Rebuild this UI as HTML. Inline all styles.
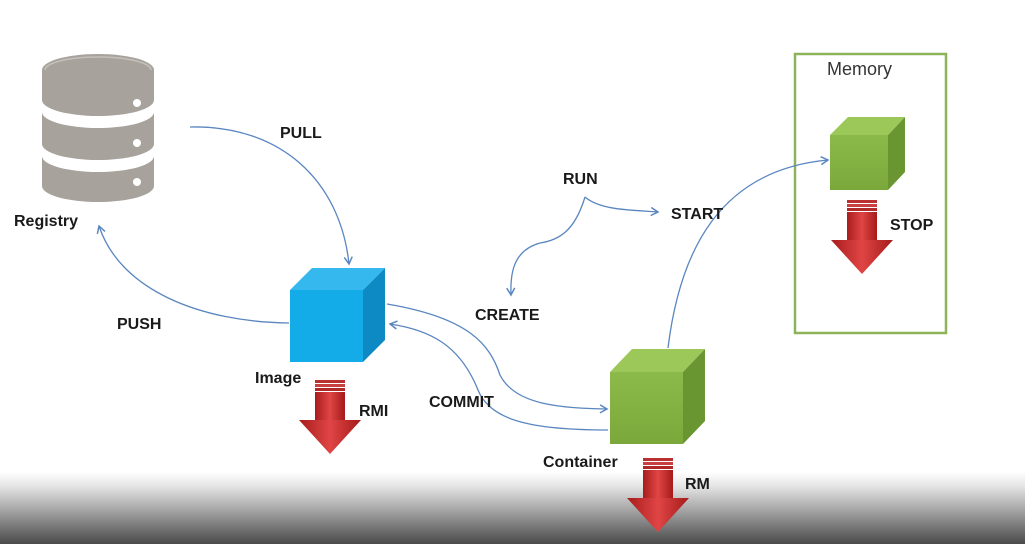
<!DOCTYPE html>
<html><head><meta charset="utf-8"><style>
html,body{margin:0;padding:0;background:#fff}
svg{display:block}
text{font-family:"Liberation Sans",sans-serif;font-size:16px;font-weight:bold;fill:#1a1a1a}
</style></head><body>
<svg width="1025" height="544" viewBox="0 0 1025 544" xmlns="http://www.w3.org/2000/svg">
<defs>
<linearGradient id="bg" x1="0" y1="0" x2="0" y2="1">
<stop offset="0" stop-color="#ffffff"/><stop offset="0.2" stop-color="#e4e4e4"/><stop offset="1" stop-color="#4a4a4a"/>
</linearGradient>
<linearGradient id="red" x1="0" y1="0" x2="1" y2="0">
<stop offset="0" stop-color="#a81c1c"/><stop offset="0.5" stop-color="#e04545"/><stop offset="1" stop-color="#a51a1a"/>
</linearGradient>
<linearGradient id="gf" x1="0" y1="0" x2="0" y2="1"><stop offset="0" stop-color="#8cba4a"/><stop offset="1" stop-color="#7aa83a"/></linearGradient>
<marker id="ah" markerWidth="10" markerHeight="10" refX="8" refY="5" orient="auto" markerUnits="userSpaceOnUse">
<path d="M1,1 L8,5 L1,9" fill="none" stroke="#5a86c0" stroke-width="1.5"/>
</marker>
<g id="rarrow">
<rect x="0" y="0" width="30" height="3" fill="#b83030"/>
<rect x="0" y="4" width="30" height="3" fill="#c84040"/>
<rect x="0" y="8" width="30" height="3" fill="#b02828"/>
<rect x="0" y="12" width="30" height="28" fill="url(#red)"/>
<path d="M-16,40 L46,40 L15,74 Z" fill="url(#red)"/>
</g>
</defs>
<rect x="0" y="472" width="1025" height="72" fill="url(#bg)"/>

<!-- Registry DB -->
<g fill="#a7a29c">
<path d="M42,70 A56,16 0 0 1 154,70 L154,100 A56,16 0 0 1 42,100 Z"/>
<path d="M42,112 A56,16 0 0 0 154,112 L154,144 A56,16 0 0 1 42,144 Z"/>
<path d="M42,156 A56,16 0 0 0 154,156 L154,186 A56,16 0 0 1 42,186 Z"/>
</g>
<path d="M45,70 A53,13 0 0 1 151,70" fill="none" stroke="#c4c0bb" stroke-width="1.5"/>
<circle cx="137" cy="103" r="4" fill="#fff"/>
<circle cx="137" cy="143" r="4" fill="#fff"/>
<circle cx="137" cy="182" r="4" fill="#fff"/>
<text x="14" y="226">Registry</text>

<!-- Image cube -->
<path d="M290,290 L312,268 L385,268 L363,290 Z" fill="#35b8ee"/>
<path d="M363,290 L385,268 L385,340 L363,362 Z" fill="#0d8ac4"/>
<rect x="290" y="290" width="73" height="72" fill="#13abe8"/>
<text x="255" y="383">Image</text>
<use href="#rarrow" x="315" y="380"/>
<text x="359" y="416">RMI</text>

<!-- Container cube -->
<path d="M610,372 L632,349 L705,349 L683,372 Z" fill="#9cc85a"/>
<path d="M683,372 L705,349 L705,421 L683,444 Z" fill="#6a9632"/>
<rect x="610" y="372" width="73" height="72" fill="url(#gf)"/>
<text x="543" y="467">Container</text>
<use href="#rarrow" x="643" y="458"/>
<text x="685" y="489">RM</text>

<!-- Memory -->
<rect x="795" y="54" width="151" height="279" fill="none" stroke="#8db35a" stroke-width="2.5"/>
<text x="827" y="75" style="font-size:18px;font-weight:normal;fill:#333">Memory</text>
<path d="M830,135 L848,117 L905,117 L888,135 Z" fill="#9cc85a"/>
<path d="M888,135 L905,117 L905,172 L888,190 Z" fill="#6a9632"/>
<rect x="830" y="135" width="58" height="55" fill="url(#gf)"/>
<use href="#rarrow" x="847" y="200"/>
<text x="890" y="230">STOP</text>

<!-- connectors -->
<g fill="none" stroke="#5a86c0" stroke-width="1.3">
<path d="M190,127 C280,125 340,180 349,264" marker-end="url(#ah)"/>
<path d="M289,323 C200,322 120,290 99,226" marker-end="url(#ah)"/>
<path d="M387,304 C470,318 490,345 500,375 C515,405 560,408 607,409" marker-end="url(#ah)"/>
<path d="M608,430 C530,430 490,420 478,390 C460,345 430,330 390,324" marker-end="url(#ah)"/>
<path d="M585,197 C600,210 630,210 658,212" marker-end="url(#ah)"/>
<path d="M585,197 C575,230 560,240 540,243 C515,250 510,270 511,295" marker-end="url(#ah)"/>
<path d="M668,348 C680,250 720,170 828,160" marker-end="url(#ah)"/>
</g>
<text x="280" y="138">PULL</text>
<text x="117" y="329">PUSH</text>
<text x="563" y="184">RUN</text>
<text x="671" y="219">START</text>
<text x="475" y="320">CREATE</text>
<text x="429" y="407">COMMIT</text>
</svg>
</body></html>
